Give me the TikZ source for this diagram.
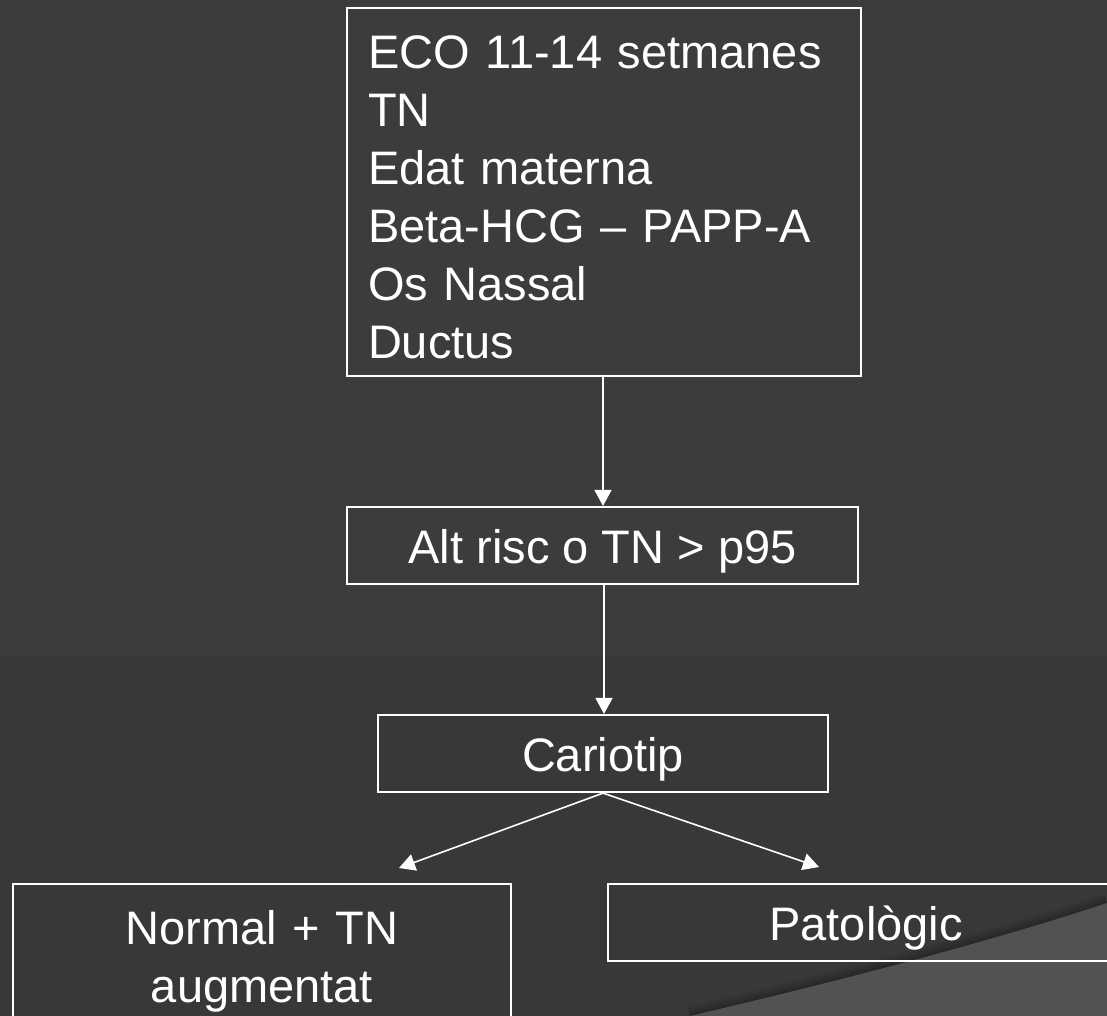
\documentclass[tikz,border=0pt]{standalone}
\usepackage{fontspec}
\setmainfont{Liberation Sans}
\usetikzlibrary{arrows.meta}
\definecolor{bgtop}{HTML}{3C3C3C}
\definecolor{bgbot}{HTML}{383838}
\definecolor{curlcol}{HTML}{525252}
\begin{document}
\begin{tikzpicture}[x=1pt,y=-1pt,
  box/.style={draw=white, line width=2.2pt, inner sep=0pt, text=white,
              font=\fontsize{47}{58}\selectfont},
  onel/.style={box, text height=40pt, text depth=4pt},
  arr/.style={draw=white, line width=1.6pt, -{Triangle[length=16pt,width=17pt]}}]
\useasboundingbox (0,0) rectangle (1107,1016);
\clip (0,0) rectangle (1107,1016);
% background
\fill[bgtop] (0,0) rectangle (1107,655);
\fill[bgbot] (0,655) rectangle (1107,1016);
% page curl with soft shadow
\foreach \i in {1,...,8}
  \draw[black, opacity=0.035, line width=\i*2.5pt]
    (690,1016) .. controls (830,983) and (980,945) .. (1107,903);
\fill[curlcol] (690,1016) .. controls (830,983) and (980,945) .. (1107,903)
  -- (1107,1016) -- cycle;
% nodes
\node[box, minimum width=514pt, minimum height=368pt, text width=472pt, align=left]
  (eco) at (604,192)
  {\rule{0pt}{44pt}ECO 11-14 setmanes\\TN\\Edat materna\\Beta-HCG – PAPP-A\\Os Nassal\\Ductus};
\node[onel, minimum width=511pt, minimum height=77pt] (alt) at (602.5,545.5)
  {Alt risc o TN > p95};
\node[onel, minimum width=450pt, minimum height=77pt] (cario) at (603,753.5)
  {Cariotip};
\node[box, minimum width=498pt, minimum height=149pt, text width=470pt, align=center]
  (normal) at (262,958.5) {\rule{0pt}{40pt}Normal + TN\\augmentat};
\node[onel, minimum width=540pt, minimum height=77pt, text width=516pt, align=center]
  (pato) at (878,922.5) {\hspace*{-24pt}Patològic};
% connectors
\coordinate (tl) at (399,868);
\coordinate (tr) at (819,867);
\draw[arr] (eco.south -| 603,0) -- (alt.north -| 603,0);
\draw[arr] (alt.south -| 604,0) -- (cario.north -| 604,0);
\draw[arr] (cario.south) -- (tl);
\draw[arr] (cario.south) -- (tr);
\end{tikzpicture}
\end{document}
